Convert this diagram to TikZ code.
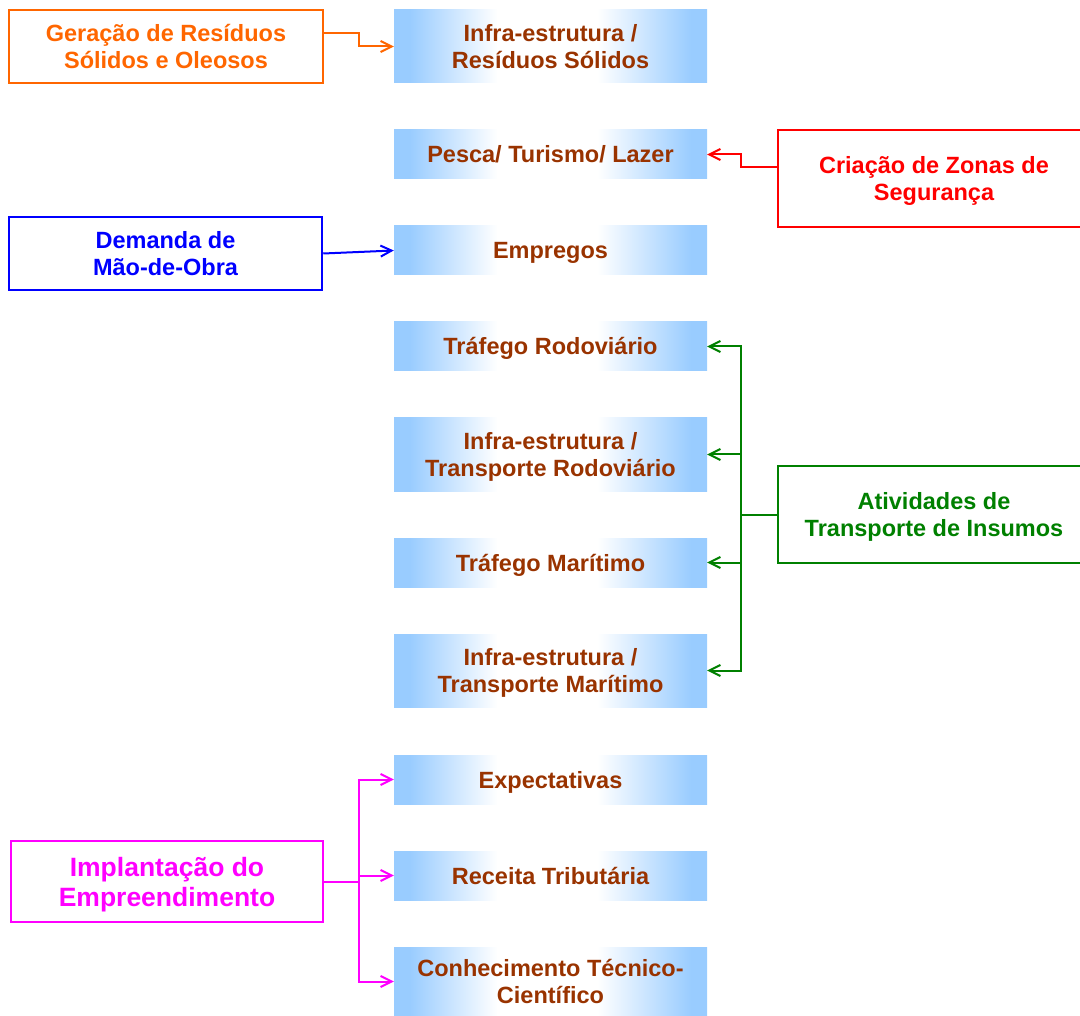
\documentclass[tikz,border=0pt]{standalone}
\usepackage{fontspec}
\setmainfont{Liberation Sans}
\usetikzlibrary{arrows.meta}
\definecolor{lightblue}{HTML}{99CCFF}
\definecolor{textbrown}{HTML}{993300}
\definecolor{causeorange}{HTML}{FF6600}
\definecolor{causered}{HTML}{FF0000}
\definecolor{causeblue}{HTML}{0000FF}
\definecolor{causegreen}{HTML}{008000}
\definecolor{causemagenta}{HTML}{FF00FF}
\pgfdeclarehorizontalshading{boxfade}{100bp}{color(0bp)=(lightblue); color(27.5bp)=(lightblue); color(41.5bp)=(white); color(57.5bp)=(white); color(72.5bp)=(lightblue); color(100bp)=(lightblue)}
\newcommand{\bw}{313pt}

\begin{document}
\begin{tikzpicture}[x=1pt, y=1pt,
    topic/.style={rectangle, shade, shading=boxfade, minimum width=\bw, minimum height=49pt, inner sep=0pt, align=center, text depth=0pt, text=textbrown, font=\bfseries\fontsize{23.5}{27}\selectfont},
    oneline/.style={text height=17pt},
    cause/.style={draw, line width=2.5pt, rectangle, inner sep=0pt, align=center, text depth=0pt, font=\bfseries\fontsize{23.5}{27}\selectfont},
    link/.style={line width=2pt, -{Straight Barb[length=11pt,width=11pt]}}]
    \useasboundingbox (0,0) rectangle (1080,-1016);

    % Central column
    \node[topic, minimum height=73pt] (res-solidos) at (550.5,-46.5) {Infra-estrutura /\\Resíduos Sólidos};
    \node[topic, oneline] (pesca) at (550.5,-154.5) {Pesca/ Turismo/ Lazer};
    \node[topic, oneline] (empregos) at (550.5,-250.5) {Empregos};
    \node[topic, oneline] (traf-rod) at (550.5,-346.5) {Tráfego Rodoviário};
    \node[topic, minimum height=73pt] (infra-rod) at (550.5,-454.5) {Infra-estrutura /\\Transporte Rodoviário};
    \node[topic, oneline] (traf-mar) at (550.5,-562.5) {Tráfego Marítimo};
    \node[topic, minimum height=73pt] (infra-mar) at (550.5,-670.5) {Infra-estrutura /\\Transporte Marítimo};
    \node[topic, oneline] (expect) at (550.5,-779.5) {Expectativas};
    \node[topic, oneline] (receita) at (550.5,-875.5) {Receita Tributária};
    \node[topic, minimum height=69pt] (conhec) at (550.5,-981.5) {Conhecimento Técnico-\\Científico};

    % Causes
    \node[cause, causeorange, minimum width=314pt, minimum height=73pt] (geracao) at (166,-46.5) {Geração de Resíduos\\Sólidos e Oleosos};
    \node[cause, causered, minimum width=312pt, minimum height=97pt] (zonas) at (934,-178.5) {Criação de Zonas de\\Segurança};
    \node[cause, causeblue, minimum width=313pt, minimum height=73pt] (demanda) at (165.5,-253.5) {Demanda de\\Mão-de-Obra};
    \node[cause, causegreen, minimum width=312pt, minimum height=97pt] (insumos) at (934,-514.5) {Atividades de\\Transporte de Insumos};
    \node[cause, causemagenta, minimum width=312pt, minimum height=81pt, font=\bfseries\fontsize{26.5}{30}\selectfont] (implant) at (167,-881.5) {Implantação do\\Empreendimento};

    % Connectors
    \draw[link, causeorange] ([yshift=13pt]geracao.east) -- ++(35,0) |- (res-solidos.west);
    \draw[link, causered] ([yshift=11.5pt]zonas.west) -- ++(-36,0) |- (pesca.east);
    \draw[link, causeblue] (demanda.east) -- (empregos.west);

    \draw[line width=2pt, causegreen] (insumos.west) -- ++(-36,0) coordinate (trunk-ins);
    \foreach \t in {traf-rod, infra-rod, traf-mar, infra-mar}
        \draw[link, causegreen] (trunk-ins) |- (\t.east);

    \draw[line width=2pt, causemagenta] (implant.east) -- ++(35,0) coordinate (trunk-imp);
    \foreach \t in {expect, receita, conhec}
        \draw[link, causemagenta] (trunk-imp) |- (\t.west);

\end{tikzpicture}
\end{document}
